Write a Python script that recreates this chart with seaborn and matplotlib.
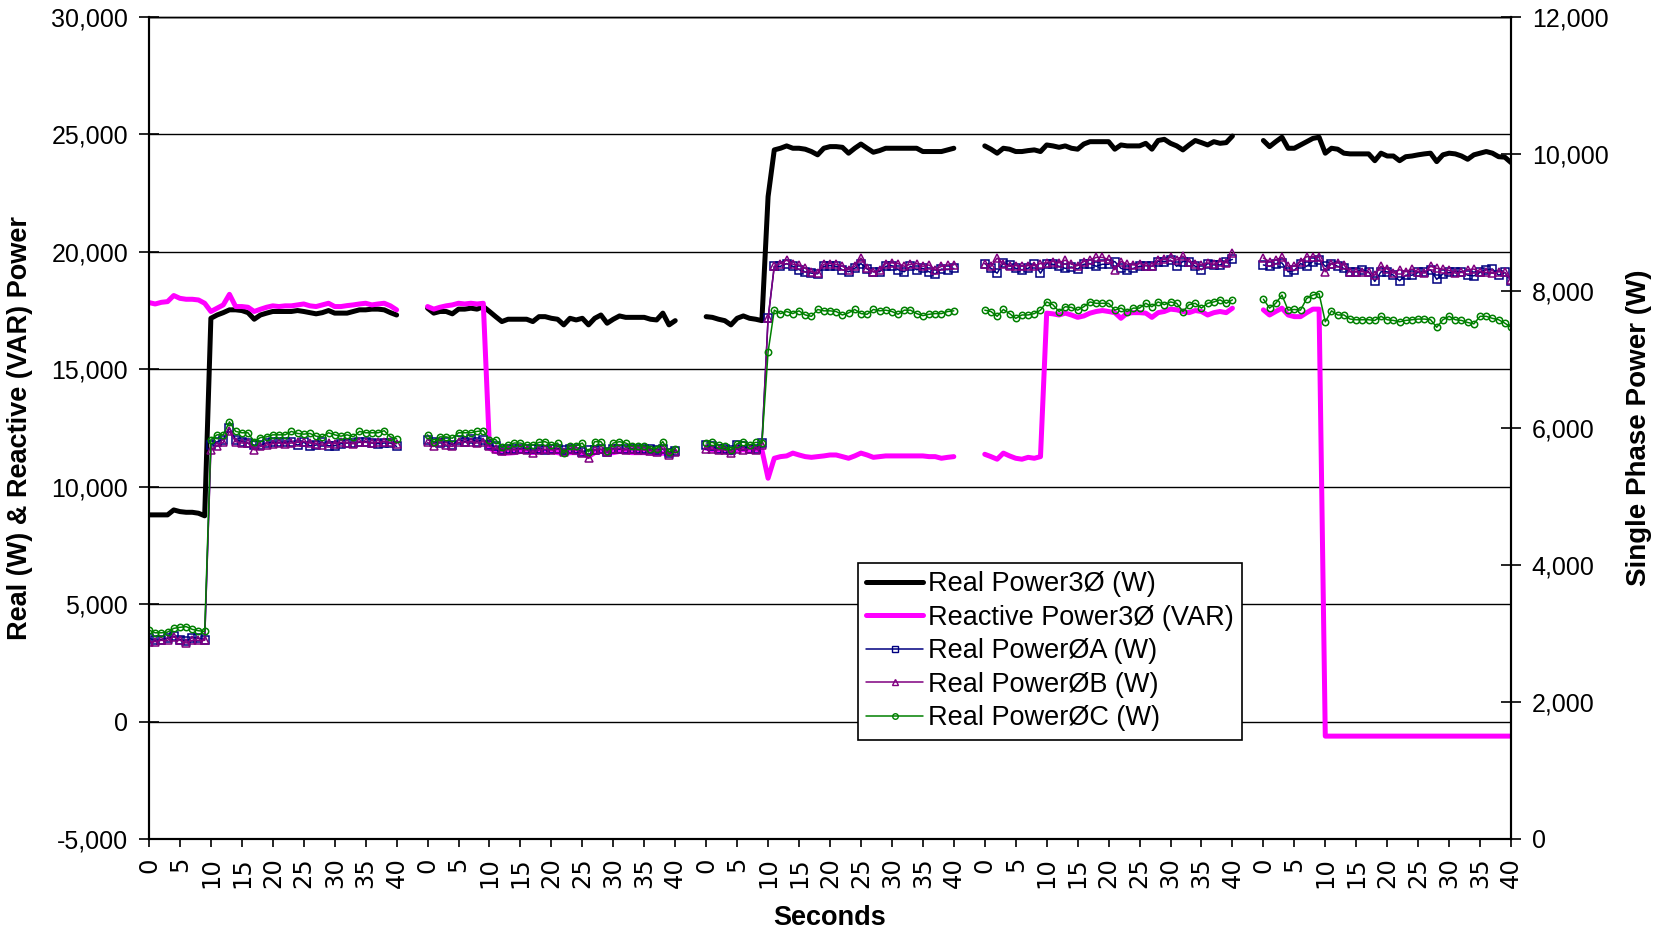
import pandas as pd
import matplotlib.pyplot as plt
import matplotlib.ticker as mticker
from matplotlib.lines import Line2D
import seaborn as sns

sns.set_theme(style="ticks", rc={"axes.edgecolor": "black", "xtick.color": "black",
                                 "ytick.color": "black", "text.color": "black",
                                 "axes.labelcolor": "black"})
plt.rcParams["font.family"] = ["Liberation Sans", "DejaVu Sans"]

# seconds within each test run (5 runs of 0-40 s)
seconds = list(range(41))

# Real Power 3-phase (W), left axis
real3 = [
    [8800, 8800, 8800, 8800, 9010, 8940, 8910, 8910, 8870, 8760,
     17170, 17310, 17410, 17530, 17530, 17500, 17410, 17130, 17310, 17390,
     17460, 17460, 17460, 17460, 17500, 17460, 17410, 17360, 17410, 17500,
     17390, 17390, 17390, 17460, 17530, 17530, 17560, 17560, 17530, 17410, 17310],
    [17600, 17390, 17460, 17460, 17360, 17560, 17560, 17600, 17560, 17670,
     17460, 17240, 17030, 17130, 17130, 17130, 17130, 17030, 17240, 17240,
     17170, 17130, 16890, 17170, 17100, 17170, 16890, 17170, 17310, 16960,
     17130, 17270, 17210, 17210, 17210, 17210, 17130, 17100, 17390, 16890, 17070],
    [17240, 17210, 17130, 17070, 16890, 17170, 17270, 17170, 17130, 17070,
     22350, 24340, 24410, 24510, 24410, 24410, 24370, 24270, 24130, 24410,
     24480, 24480, 24450, 24200, 24410, 24590, 24410, 24240, 24310, 24410,
     24410, 24410, 24410, 24410, 24410, 24270, 24270, 24270, 24270, 24340, 24410],
    [24510, 24370, 24200, 24410, 24370, 24270, 24270, 24310, 24340, 24270,
     24550, 24510, 24450, 24510, 24410, 24370, 24590, 24690, 24690, 24690,
     24690, 24370, 24550, 24510, 24510, 24510, 24620, 24370, 24740, 24790,
     24620, 24510, 24340, 24550, 24740, 24650, 24550, 24690, 24620, 24650, 24930],
    [24740, 24480, 24690, 24880, 24410, 24410, 24550, 24690, 24830, 24880,
     24200, 24410, 24370, 24200, 24170, 24170, 24170, 24170, 23880, 24200,
     24080, 24080, 23880, 24050, 24080, 24130, 24170, 24200, 23840, 24130,
     24200, 24170, 24080, 23940, 24130, 24200, 24270, 24200, 24050, 24030, 23800],
]

# Reactive Power 3-phase (VAR), left axis
reactive3 = [
    [17840, 17780, 17850, 17880, 18140, 18020, 17980, 17980, 17950, 17810,
     17460, 17600, 17740, 18190, 17670, 17670, 17640, 17460, 17555, 17640,
     17700, 17670, 17700, 17700, 17740, 17780, 17700, 17670, 17740, 17810,
     17670, 17670, 17710, 17740, 17780, 17810, 17740, 17780, 17810, 17700, 17530],
    [17670, 17560, 17640, 17700, 17740, 17810, 17780, 17810, 17780, 17810,
     11640, 11500, 11430, 11430, 11450, 11500, 11500, 11450, 11500, 11500,
     11500, 11450, 11400, 11450, 11450, 11430, 11280, 11450, 11500, 11450,
     11450, 11500, 11500, 11450, 11450, 11450, 11430, 11400, 11430, 11400, 11500],
    [11640, 11570, 11540, 11500, 11430, 11570, 11570, 11540, 11570, 11570,
     10360, 11210, 11280, 11310, 11430, 11350, 11280, 11250, 11280, 11310,
     11350, 11350, 11280, 11210, 11310, 11430, 11350, 11250, 11280, 11310,
     11310, 11310, 11310, 11310, 11310, 11310, 11280, 11280, 11210, 11250, 11280],
    [11380, 11280, 11170, 11430, 11310, 11210, 11170, 11250, 11210, 11280,
     17390, 17360, 17310, 17390, 17310, 17210, 17270, 17390, 17460, 17500,
     17460, 17410, 17170, 17390, 17410, 17410, 17390, 17210, 17410, 17460,
     17560, 17530, 17460, 17410, 17500, 17460, 17310, 17410, 17460, 17410, 17600],
    [17530, 17310, 17460, 17600, 17310, 17240, 17240, 17410, 17560, 17560,
     -620, -620, -620, -620, -620, -620, -620, -620, -620, -620,
     -620, -620, -620, -620, -620, -620, -620, -620, -620, -620,
     -620, -620, -620, -620, -620, -620, -620, -620, -620, -620, -620],
]

# Single phase real power (W), right axis
phase_a = [
    [2930, 2900, 2910, 2930, 2960, 2910, 2890, 2940, 2930, 2910,
     5750, 5800, 5830, 6000, 5830, 5800, 5780, 5750, 5750, 5780,
     5790, 5790, 5790, 5800, 5750, 5790, 5740, 5750, 5790, 5740,
     5740, 5770, 5780, 5780, 5790, 5800, 5780, 5770, 5780, 5780, 5730],
    [5830, 5800, 5780, 5800, 5750, 5830, 5800, 5840, 5800, 5830,
     5750, 5730, 5680, 5690, 5690, 5700, 5690, 5700, 5700, 5680,
     5690, 5700, 5680, 5700, 5690, 5650, 5680, 5680, 5690, 5650,
     5700, 5690, 5690, 5700, 5690, 5690, 5690, 5680, 5690, 5630, 5670],
    [5750, 5730, 5700, 5700, 5680, 5750, 5730, 5700, 5700, 5780,
     7600, 8360, 8360, 8400, 8360, 8310, 8280, 8260, 8250, 8360,
     8370, 8360, 8310, 8280, 8330, 8400, 8320, 8280, 8280, 8360,
     8370, 8310, 8280, 8360, 8310, 8330, 8280, 8250, 8320, 8310, 8330],
    [8400, 8330, 8260, 8410, 8380, 8330, 8310, 8330, 8400, 8260,
     8400, 8390, 8360, 8330, 8350, 8320, 8390, 8400, 8360, 8390,
     8390, 8430, 8330, 8310, 8330, 8360, 8370, 8360, 8430, 8430,
     8450, 8360, 8430, 8430, 8360, 8310, 8400, 8380, 8380, 8430, 8460],
    [8380, 8360, 8400, 8410, 8280, 8300, 8400, 8360, 8430, 8450,
     8360, 8400, 8360, 8330, 8280, 8280, 8310, 8280, 8140, 8280,
     8280, 8230, 8150, 8230, 8230, 8270, 8280, 8310, 8170, 8250,
     8270, 8280, 8280, 8230, 8220, 8270, 8310, 8320, 8230, 8270, 8150],
]

phase_b = [
    [2880, 2880, 2900, 2900, 2950, 2900, 2860, 2900, 2900, 2900,
     5680, 5740, 5790, 5950, 5800, 5780, 5780, 5680, 5730, 5750,
     5770, 5780, 5770, 5780, 5790, 5800, 5780, 5770, 5750, 5780,
     5770, 5790, 5780, 5770, 5800, 5790, 5780, 5790, 5800, 5790, 5770],
    [5790, 5730, 5800, 5750, 5730, 5790, 5790, 5800, 5780, 5800,
     5730, 5700, 5670, 5680, 5680, 5690, 5680, 5640, 5680, 5690,
     5680, 5690, 5650, 5690, 5680, 5640, 5560, 5680, 5690, 5650,
     5690, 5700, 5680, 5690, 5680, 5680, 5670, 5650, 5700, 5610, 5650],
    [5700, 5690, 5680, 5680, 5640, 5700, 5680, 5700, 5680, 5750,
     7600, 8360, 8400, 8450, 8390, 8380, 8330, 8280, 8260, 8390,
     8400, 8390, 8360, 8310, 8360, 8480, 8330, 8280, 8300, 8400,
     8410, 8400, 8360, 8390, 8400, 8360, 8380, 8310, 8360, 8380, 8380],
    [8400, 8360, 8480, 8390, 8360, 8370, 8360, 8370, 8370, 8400,
     8410, 8430, 8410, 8450, 8390, 8370, 8430, 8450, 8490, 8490,
     8460, 8310, 8430, 8390, 8380, 8400, 8370, 8360, 8450, 8460,
     8490, 8450, 8510, 8430, 8400, 8380, 8410, 8390, 8430, 8410, 8550],
    [8480, 8430, 8450, 8490, 8360, 8360, 8430, 8500, 8500, 8490,
     8280, 8400, 8410, 8380, 8280, 8280, 8280, 8270, 8230, 8360,
     8320, 8260, 8310, 8280, 8320, 8280, 8260, 8360, 8330, 8320,
     8300, 8260, 8270, 8310, 8320, 8280, 8270, 8260, 8280, 8270, 8160],
]

phase_c = [
    [3050, 3010, 3010, 3020, 3075, 3090, 3100, 3060, 3040, 3030,
     5830, 5900, 5900, 6090, 5950, 5930, 5930, 5800, 5860, 5870,
     5900, 5900, 5900, 5950, 5920, 5910, 5920, 5880, 5870, 5930,
     5900, 5880, 5900, 5870, 5950, 5930, 5930, 5930, 5960, 5870, 5840],
    [5900, 5790, 5870, 5870, 5850, 5930, 5930, 5930, 5950, 5960,
     5830, 5830, 5720, 5750, 5780, 5780, 5750, 5750, 5790, 5800,
     5750, 5780, 5630, 5740, 5740, 5780, 5650, 5800, 5800, 5670,
     5780, 5800, 5780, 5740, 5740, 5740, 5700, 5700, 5800, 5650, 5700],
    [5780, 5790, 5750, 5730, 5680, 5770, 5800, 5750, 5790, 5780,
     7110, 7720, 7670, 7700, 7670, 7710, 7650, 7630, 7730, 7710,
     7710, 7700, 7650, 7680, 7730, 7670, 7660, 7730, 7710, 7720,
     7700, 7660, 7720, 7720, 7670, 7640, 7660, 7670, 7670, 7700, 7710],
    [7720, 7700, 7630, 7730, 7670, 7600, 7650, 7650, 7670, 7720,
     7840, 7800, 7700, 7770, 7760, 7720, 7770, 7840, 7820, 7820,
     7820, 7720, 7750, 7700, 7750, 7750, 7820, 7770, 7840, 7800,
     7840, 7820, 7700, 7800, 7820, 7750, 7820, 7840, 7870, 7820, 7870],
    [7880, 7750, 7820, 7940, 7720, 7730, 7720, 7890, 7940, 7960,
     7550, 7710, 7650, 7650, 7590, 7580, 7580, 7580, 7570, 7630,
     7580, 7570, 7550, 7570, 7580, 7590, 7590, 7580, 7470, 7580,
     7630, 7580, 7570, 7540, 7520, 7630, 7630, 7600, 7580, 7530, 7470],
]

labels = ["Real Power3Ø (W)", "Reactive Power3Ø (VAR)",
          "Real PowerØA (W)", "Real PowerØB (W)", "Real PowerØC (W)"]

# each run takes 45 slots on the category axis (41 seconds + blank gap)
run_width = 45

rows = []
for name, blocks in zip(labels, [real3, reactive3, phase_a, phase_b, phase_c]):
    for b, vals in enumerate(blocks):
        for s, v in zip(seconds, vals):
            rows.append((name, b, b * run_width + s, v))
df = pd.DataFrame(rows, columns=["series", "run", "pos", "value"])

navy, purple, green, magenta = "#000080", "#800080", "#008000", "#FF00FF"

fig = plt.figure(figsize=(16.57, 9.32), dpi=100)
ax = fig.add_axes([0.0899, 0.0998, 0.822, 0.882])
ax2 = ax.twinx()

# 3-phase totals on the left axis
sns.lineplot(data=df[df.series == labels[0]], x="pos", y="value", units="run",
             estimator=None, sort=False, color="black", linewidth=3.6,
             ax=ax, legend=False)
sns.lineplot(data=df[df.series == labels[1]], x="pos", y="value", units="run",
             estimator=None, sort=False, color=magenta, linewidth=3.6,
             ax=ax, legend=False)

# single phases on the right axis
for lab, col, mk, ms in [(labels[2], navy, "s", 5.5),
                         (labels[3], purple, "^", 5.5),
                         (labels[4], green, "o", 4.6)]:
    sns.lineplot(data=df[df.series == lab], x="pos", y="value", units="run",
                 estimator=None, sort=False, color=col, linewidth=1.1,
                 marker=mk, markersize=ms, markerfacecolor="none",
                 markeredgecolor=col, markeredgewidth=1.1, ax=ax2, legend=False)

# axes ranges and ticks
ax.set_xlim(0, 4 * run_width + 40)
ax.set_ylim(-5000, 30000)
ax2.set_ylim(0, 12000)

xt = list(range(0, 4 * run_width + 41, 5))
ax.set_xticks(xt)
ax.set_xticklabels([str(p % run_width) for p in xt], rotation=90,
                   family=["DejaVu Sans"])
ax.set_yticks(range(-5000, 30001, 5000))
ax2.set_yticks(range(0, 12001, 2000))
fmt = mticker.FuncFormatter(lambda v, p: f"{v:,.0f}")
ax.yaxis.set_major_formatter(fmt)
ax2.yaxis.set_major_formatter(fmt)

ax.yaxis.grid(True, color="black", linewidth=1.0)
ax.xaxis.grid(False)
ax2.grid(False)

ax.tick_params(axis="y", direction="inout", length=14, width=1.2, labelsize=18, pad=8)
ax2.tick_params(axis="y", direction="inout", length=14, width=1.2, labelsize=18, pad=8)
ax.tick_params(axis="x", direction="out", length=6, width=1.2, labelsize=17.5, pad=7)

for a in (ax, ax2):
    for sp in a.spines.values():
        sp.set_color("black")
    a.spines["left"].set_linewidth(1.5)
    a.spines["right"].set_linewidth(1.5)
    a.spines["bottom"].set_linewidth(1.5)
    a.spines["top"].set_linewidth(1.0)

ax.set_xlabel("Seconds", fontsize=19.5, fontweight="bold")
ax.set_ylabel("Real (W) & Reactive (VAR) Power", fontsize=19.5, fontweight="bold")
ax2.set_ylabel("Single Phase Power (W)", fontsize=20, fontweight="bold", rotation=90)
ax.xaxis.label.set_va("center")
ax.xaxis.set_label_coords(0.5, -0.096)
ax.yaxis.label.set_va("center")
ax.yaxis.set_label_coords(-0.095, 0.5)
ax2.yaxis.label.set_va("center")
ax2.yaxis.set_label_coords(1.094, 0.5)

handles = [
    Line2D([], [], color="black", linewidth=3.6, label=labels[0]),
    Line2D([], [], color=magenta, linewidth=3.6, label=labels[1]),
    Line2D([], [], color=navy, linewidth=1.1, marker="s", markersize=5,
           markerfacecolor="none", markeredgecolor=navy, label=labels[2]),
    Line2D([], [], color=purple, linewidth=1.1, marker="^", markersize=5,
           markerfacecolor="none", markeredgecolor=purple, label=labels[3]),
    Line2D([], [], color=green, linewidth=1.1, marker="o", markersize=4,
           markerfacecolor="none", markeredgecolor=green, label=labels[4]),
]
leg = ax2.legend(handles=handles, loc="upper left", bbox_to_anchor=(0.5206, 0.3358),
                 borderaxespad=0, fontsize=19.5, frameon=True, fancybox=False,
                 edgecolor="black", framealpha=1, handlelength=2.1,
                 handletextpad=0.2, borderpad=0.3, labelspacing=0.28, numpoints=1)
leg.get_frame().set_linewidth(1.2)

fig.savefig("out.png", dpi=100)
